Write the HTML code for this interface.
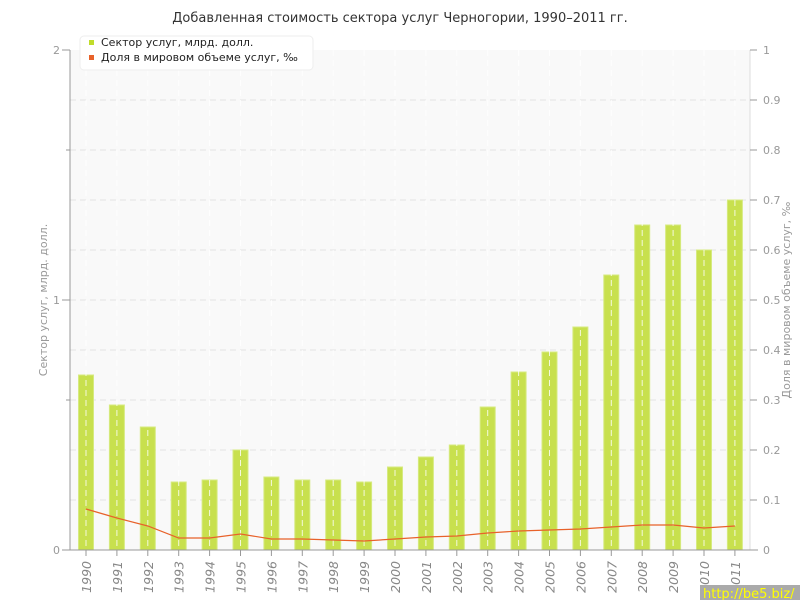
<!DOCTYPE html>
<html><head><meta charset="utf-8"><style>body{margin:0;background:#fff}svg{display:block;font-family:"DejaVu Sans","Liberation Sans",sans-serif}</style></head><body>
<svg width="800" height="600" xmlns="http://www.w3.org/2000/svg">
<rect width="800" height="600" fill="#fff"/>
<text x="400" y="22" text-anchor="middle" font-size="13" fill="#333">Добавленная стоимость сектора услуг Черногории, 1990–2011 гг.</text>
<rect x="70" y="50" width="680" height="500" fill="#f9f9f9"/>
<g stroke="#e2e2e2" stroke-dasharray="6,4" stroke-width="1">
<line x1="70" y1="100" x2="750" y2="100"/><line x1="70" y1="150" x2="750" y2="150"/><line x1="70" y1="200" x2="750" y2="200"/><line x1="70" y1="250" x2="750" y2="250"/><line x1="70" y1="300" x2="750" y2="300"/><line x1="70" y1="350" x2="750" y2="350"/><line x1="70" y1="400" x2="750" y2="400"/><line x1="70" y1="450" x2="750" y2="450"/><line x1="70" y1="500" x2="750" y2="500"/>
</g>
<g id="bars" fill="#c8e04e" stroke="#d6ea80" stroke-width="1"></g>
<g id="vg" stroke="#fff" stroke-opacity="0.8" stroke-dasharray="6,4"></g>
<polyline id="ln" fill="none" stroke="#e8622a" stroke-width="1.2"/>
<g stroke="#999"><line x1="70" y1="50" x2="70" y2="550"/><line x1="750" y1="50" x2="750" y2="550" stroke="#ddd"/><line x1="62" y1="550" x2="758" y2="550"/>
<line x1="62" y1="50" x2="70" y2="50"/><line x1="62" y1="300" x2="70" y2="300"/><line x1="66" y1="150" x2="70" y2="150"/><line x1="66" y1="400" x2="70" y2="400"/></g>
<g font-size="11" fill="#999">
<text x="60" y="54" text-anchor="end">2</text><text x="60" y="304" text-anchor="end">1</text><text x="60" y="554" text-anchor="end">0</text>
</g>
<g id="rt" font-size="11" fill="#999" stroke="none"></g>
<g id="xl" font-size="12.5" fill="#888" font-style="italic"></g>
<text transform="translate(47,300) rotate(-90)" text-anchor="middle" font-size="11" fill="#999">Сектор услуг, млрд. долл.</text>
<text transform="translate(790,300) rotate(-90)" text-anchor="middle" font-size="11" fill="#999">Доля в мировом объеме услуг, ‰</text>
<rect x="80" y="36" width="233" height="34" rx="4" fill="#fff" stroke="#eee"/>
<rect x="89" y="40" width="5" height="5" fill="#c0dc2a"/>
<rect x="89" y="55" width="5" height="5" fill="#e8622a"/>
<text x="101" y="46" font-size="11" fill="#222">Сектор услуг, млрд. долл.</text>
<text x="101" y="61" font-size="11" fill="#222">Доля в мировом объеме услуг, ‰</text>
<rect x="700" y="585" width="100" height="15" fill="#aaa"/>
<text x="703" y="598" font-size="13" fill="#ff0">http://be5.biz/</text>
</svg>
<script>
const ns="http://www.w3.org/2000/svg";
const bt=[375,405,427,482,480,450,477,480,480,482,467,457,445,407,372,352,327,275,225,225,250,200];
const ly=[509,518,526,538,538,534,539,539,540,541,539,537,536,533,531,530,529,527,525,525,528,526];
const g=document.getElementById('bars'),vg=document.getElementById('vg'),xl=document.getElementById('xl'),rt=document.getElementById('rt');
let pts=[];
bt.forEach((t,i)=>{const c=86+i*30.9;
let r=document.createElementNS(ns,'rect');r.setAttribute('x',c-7.5);r.setAttribute('y',t);r.setAttribute('width',15);r.setAttribute('height',550-t);g.appendChild(r);
let l=document.createElementNS(ns,'line');l.setAttribute('x1',c);l.setAttribute('x2',c);l.setAttribute('y1',50);l.setAttribute('y2',550);vg.appendChild(l);
let tk=document.createElementNS(ns,'line');tk.setAttribute('x1',c);tk.setAttribute('x2',c);tk.setAttribute('y1',550);tk.setAttribute('y2',556);tk.setAttribute('stroke','#999');xl.appendChild(tk);
let tx=document.createElementNS(ns,'text');tx.setAttribute('transform',`translate(${c+5},561) rotate(-90)`);tx.setAttribute('text-anchor','end');tx.textContent=1990+i;xl.appendChild(tx);
pts.push(c+','+ly[i]);});
document.getElementById('ln').setAttribute('points',pts.join(' '));
for(let k=0;k<=10;k++){const y=550-k*50;
let tk=document.createElementNS(ns,'line');tk.setAttribute('x1',750);tk.setAttribute('x2',757);tk.setAttribute('y1',y);tk.setAttribute('y2',y);tk.setAttribute('stroke','#999');rt.appendChild(tk);
let tx=document.createElementNS(ns,'text');tx.setAttribute('x',763);tx.setAttribute('y',y+4);tx.textContent=k==0?'0':k==10?'1':'0.'+k;rt.appendChild(tx);}
</script>
</body></html>
